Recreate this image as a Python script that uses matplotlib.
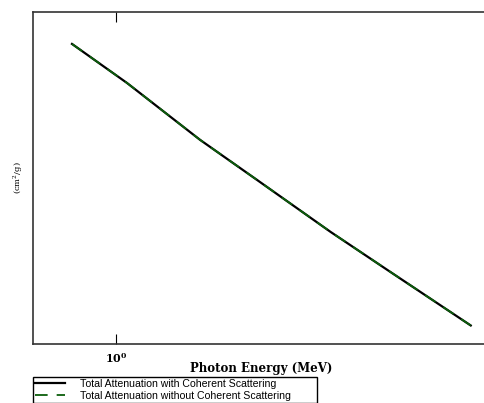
import matplotlib as mpl
mpl.use('Agg')
import matplotlib.pyplot as plt
from matplotlib.ticker import FixedLocator, NullLocator, FixedFormatter

plt.rcParams['mathtext.fontset'] = 'custom'
plt.rcParams['mathtext.rm'] = 'DejaVu Serif'
plt.rcParams['mathtext.bf'] = 'DejaVu Serif:bold'

# photon energy (MeV) and attenuation (cm^2/g)
energy = [0.783, 1.064, 1.60, 2.20, 3.31, 4.55, 7.23]
mu_with = [0.0786, 0.0666, 0.0523, 0.0441, 0.0354, 0.0301, 0.0238]
mu_without = [0.0786, 0.0666, 0.0523, 0.0441, 0.0354, 0.0301, 0.0238]

xticks = [1.0]
xticklabels = [r'$\mathbf{10^0}$']

fig = plt.figure(figsize=(4.85, 4.03), dpi=100)
ax = fig.add_axes([0.068, 0.1464, 0.94, 0.8238])

l1, = ax.plot(energy, mu_with, color='black', lw=1.6, ls='-',
              label='Total Attenuation with Coherent Scattering')
l2, = ax.plot(energy, mu_without, color='#0b5e0b', lw=1.3, ls=(0, (7, 5)),
              label='Total Attenuation without Coherent Scattering')

ax.set_xscale('log')
ax.set_yscale('log')
ax.set_xlim(0.63, 8.0)
ax.set_ylim(0.022, 0.09)

ax.xaxis.set_major_locator(FixedLocator(xticks))
ax.xaxis.set_major_formatter(FixedFormatter(xticklabels))
ax.xaxis.set_minor_locator(NullLocator())
ax.yaxis.set_major_locator(NullLocator())
ax.yaxis.set_minor_locator(NullLocator())
ax.tick_params(axis='x', direction='in', length=7, width=0.8, top=True,
               pad=5, labelsize=8)

for s in ax.spines.values():
    s.set_linewidth(1.2)
    s.set_color('#333333')

ax.set_xlabel('Photon Energy (MeV)', family='DejaVu Serif', fontsize=8.5,
              fontweight='bold', labelpad=-2)
ax.set_ylabel(r'(cm$^2$/g)', family='DejaVu Serif', fontsize=6)
ax.yaxis.set_label_coords(-0.018, 0.5)

leg = fig.legend(handles=[l1, l2], loc='upper left',
                 bbox_to_anchor=(0.068, 0.0, 0.585, 0.0645),
                 bbox_transform=fig.transFigure, mode='expand',
                 prop={'family': 'Liberation Sans', 'size': 7.6},
                 fancybox=False, edgecolor='black', framealpha=1,
                 borderpad=0.2, labelspacing=0.15, handlelength=2.8,
                 handletextpad=1.5, borderaxespad=0)
leg.get_frame().set_linewidth(1.0)

plt.savefig('out.png', dpi=100)
plt.close()
